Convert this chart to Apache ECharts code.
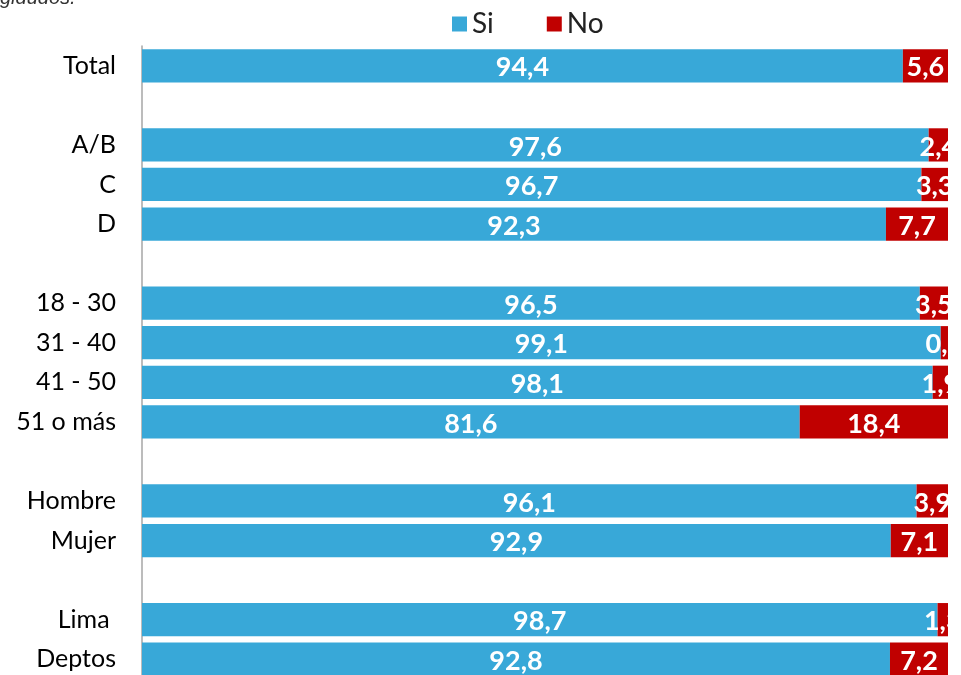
<!DOCTYPE html>
<html lang="es">
<head>
<meta charset="UTF-8">
<title>Si / No</title>
<script src="https://cdn.jsdelivr.net/npm/echarts@6/dist/echarts.min.js"></script>
<style>
    html, body { margin: 0; padding: 0; background: #fff; overflow: hidden; }
    #chart { width: 948px; height: 680px; }
</style>
</head>
<body>
<div id="chart"></div>
<script>
    // rows from top to bottom, blank strings are the spacer rows
    var categories = ['Total', ' ', 'A/B', 'C', 'D', '  ', '18 - 30', '31 - 40', '41 - 50', '51 o más', '   ', 'Hombre', 'Mujer', '    ', 'Lima ', 'Deptos'];
    var siValues = [94.4, null, 97.6, 96.7, 92.3, null, 96.5, 99.1, 98.1, 81.6, null, 96.1, 92.9, null, 98.7, 92.8];
    var noValues = [5.6, null, 2.4, 3.3, 7.7, null, 3.5, 0.9, 1.9, 18.4, null, 3.9, 7.1, null, 1.3, 7.2];

    var chart = echarts.init(document.getElementById('chart'));

    function fmt(p) {
        return p.value == null ? '' : String(p.value.toFixed(1)).replace('.', ',');
    }
    var barLabel = {
        show: true,
        position: 'inside',
        offset: [0, 2],
        color: '#fff',
        fontFamily: 'Lato',
        fontWeight: 'bold',
        fontSize: 27,
        formatter: fmt
    };

    chart.setOption({
        animation: false,
        graphic: [{
            type: 'text',
            left: 0,
            top: -12,
            style: { text: 'gidudos.', font: 'italic 20px "Liberation Sans"', fill: '#333' }
        }],
        legend: {
            data: ['Si', 'No'],
            left: 447,
            top: 5,
            icon: 'rect',
            itemWidth: 15,
            itemHeight: 15,
            itemGap: 53,
            textStyle: { fontFamily: 'Lato', fontSize: 28, color: '#222' }
        },
        grid: { left: 142, right: 0, top: 46, bottom: 1 },
        xAxis: {
            type: 'value',
            min: 0,
            max: 100,
            show: false
        },
        yAxis: {
            type: 'category',
            inverse: true,
            data: categories,
            axisLine: { show: true, lineStyle: { color: '#a6a6a6', width: 1.5 } },
            axisTick: { show: false },
            axisLabel: { margin: 26, fontFamily: 'Lato', fontSize: 25, color: '#000' }
        },
        series: [{
            name: 'Si',
            type: 'bar',
            stack: 'total',
            barCategoryGap: '16%',
            itemStyle: { color: '#38a8d8' },
            label: barLabel,
            data: siValues
        }, {
            name: 'No',
            type: 'bar',
            stack: 'total',
            barCategoryGap: '16%',
            itemStyle: { color: '#c00000' },
            label: barLabel,
            data: noValues
        }]
    });
</script>
</body>
</html>
